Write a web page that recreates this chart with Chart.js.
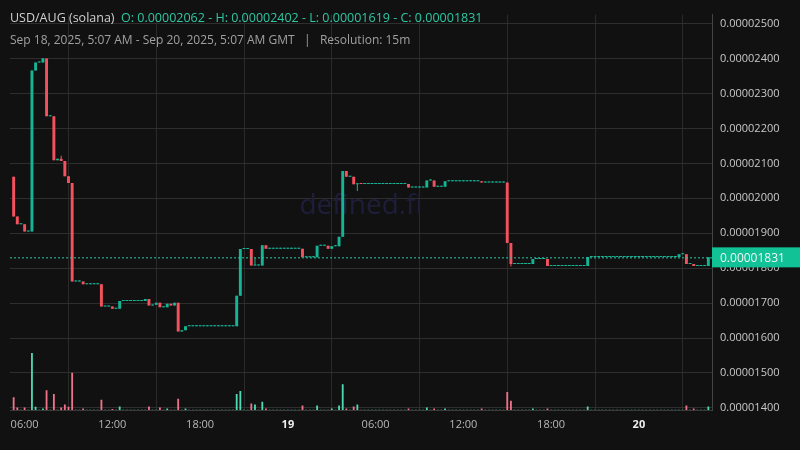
<!DOCTYPE html>
<html><head><meta charset="utf-8">
<script src="https://cdn.jsdelivr.net/npm/chart.js@4"></script>
<style>
html,body{margin:0;padding:0;background:#111111;}
#wrap{position:relative;width:800px;height:450px;font-family:"Open Sans","Noto Sans",sans-serif;}
#hdr{position:absolute;left:10px;top:9px;font-size:12.5px;color:#d1d1d1;white-space:pre;pointer-events:none}
#hdr .o{color:#2fc7a3}
#sub{position:absolute;left:10px;top:31px;font-size:12px;color:#a0a0a0;white-space:pre;pointer-events:none}
</style></head><body>
<div id="wrap"><canvas id="c" width="800" height="450"></canvas>
<div id="hdr">USD/AUG (solana)  <span class="o">O: 0.00002062 - H: 0.00002402 - L: 0.00001619 - C: 0.00001831</span></div>
<div id="sub">Sep 18, 2025, 5:07 AM - Sep 20, 2025, 5:07 AM GMT   |   Resolution: 15m</div>
</div>
<script>
// prices in units of 1e-8
const firstOpen = 2062;
const closes = [
1948,1926,1926,1905,1905,2366,2389,2389,2400,2235,
2235,2109,2113,2107,2063,2044,1762,1762,1762,1754,
1754,1754,1754,1754,1690,1690,1690,1684,1684,1706,
1706,1706,1706,1706,1706,1706,1712,1693,1695,1701,
1688,1688,1698,1693,1701,1619,1622,1634,1634,1634,
1634,1634,1634,1634,1634,1634,1634,1634,1634,1634,
1634,1721,1855,1855,1855,1808,1808,1808,1866,1856,
1856,1856,1856,1856,1856,1856,1856,1856,1856,1831,
1831,1831,1831,1864,1864,1864,1856,1863,1863,1890,
2078,2062,2062,2040,2043,2041,2041,2041,2041,2041,
2041,2041,2041,2041,2041,2041,2041,2041,2031,2031,
2031,2031,2031,2051,2051,2033,2033,2033,2049,2049,
2049,2049,2049,2049,2049,2049,2049,2049,2045,2045,
2045,2045,2045,2045,2045,1872,1812,1812,1812,1812,
1812,1812,1826,1826,1826,1826,1806,1806,1806,1806,
1806,1806,1806,1806,1806,1806,1806,1832,1832,1832,
1832,1832,1832,1832,1832,1832,1832,1832,1832,1832,
1832,1832,1832,1832,1832,1832,1832,1832,1832,1832,
1832,1832,1840,1840,1812,1812,1806,1806,1806,1806,
1831];
const wickHighIdx = [8,13,66];
const wickHighVal = [2402,2122,1830];
const wickLowIdx = [94,136];
const wickLowVal = [2021,1805];
const volumes = [
40,8,1,8,1,178,10,1,5,62,
1,50,1,8,17,10,116,1,1,5,
1,1,1,1,32,1,1,3,1,11,
1,1,1,1,1,1,1,11,1,1,
8,1,5,1,1,35,1,5,1,1,
1,1,1,1,1,1,1,1,1,1,
1,50,59,1,1,20,17,1,26,5,
1,1,1,1,1,1,1,1,1,14,
1,1,1,14,1,1,1,5,1,14,
80,5,1,11,17,1,1,1,1,1,
1,1,1,1,1,1,1,1,5,1,
1,1,1,8,1,5,1,1,5,1,
1,1,1,1,1,1,1,1,5,1,
1,1,1,1,1,56,29,1,1,1,
1,1,5,1,1,1,5,1,1,1,
1,1,1,1,1,1,1,11,1,1,
1,1,1,1,1,1,1,1,1,1,
1,1,1,1,1,1,1,1,1,1,
1,1,1,1,14,1,5,1,1,1,
11];
const xTickIdx = [3,27,51,75,99,123,147,171];
const xTickLabels = ['06:00','12:00','18:00','19','06:00','12:00','18:00','20'];
const yTicks = [1400,1500,1600,1700,1800,1900,2000,2100,2200,2300,2400,2500];
const lastPrice = 1831;

const UP='#16b394', DN='#f2525d', VUP='#4fd8b5', VDN='#f0728a';
const opens = closes.map((c,i)=> i===0?firstOpen:closes[i-1]);
const bodies=[], wicks=[], vols=[], bodyCol=[], volCol=[];
closes.forEach((c,i)=>{
  const o=opens[i];
  let hi=Math.max(o,c), lo=Math.min(o,c);
  const hj=wickHighIdx.indexOf(i); if(hj>=0) hi=Math.max(hi,wickHighVal[hj]);
  const lj=wickLowIdx.indexOf(i); if(lj>=0) lo=Math.min(lo,wickLowVal[lj]);
  bodies.push({x:i,y:[o,c]});
  wicks.push({x:i,y:[lo,hi]});
  const up = c>=o;
  bodyCol.push(up?UP:DN);
  vols.push({x:i,y:volumes[i]});
  volCol.push(up?VUP:VDN);
});

const overlay={id:'overlay',
 beforeDatasetsDraw(ch){
  const {ctx,chartArea:a}=ch;
  ctx.save();ctx.font='28px "Open Sans",sans-serif';ctx.fillStyle='#1e1e3a';
  ctx.textAlign='center';ctx.textBaseline='middle';
  ctx.fillText('defined.fi',(a.left+a.right)/2,206);ctx.restore();
 },
 afterDraw(ch){
  const {ctx,chartArea:a,scales}=ch;
  const y=scales.y.getPixelForValue(lastPrice);
  ctx.save();ctx.strokeStyle='#2fc7a3';ctx.setLineDash([2,2]);ctx.lineWidth=1;
  ctx.beginPath();ctx.moveTo(a.left,y+0.5);ctx.lineTo(a.right,y+0.5);ctx.stroke();
  ctx.setLineDash([]);ctx.fillStyle='#12c297';ctx.fillRect(a.right,y-10,88,20);
  ctx.fillStyle='#f4f4f4';ctx.font='12px "Open Sans",sans-serif';ctx.textBaseline='middle';
  ctx.fillText((lastPrice/1e8).toFixed(8),a.right+8,y+1);
  ctx.restore();
 }};

new Chart(document.getElementById('c'),{
 type:'bar',
 data:{datasets:[
  {data:bodies,backgroundColor:bodyCol,grouped:false,barPercentage:0.8,categoryPercentage:1,minBarLength:1,yAxisID:'y',order:1},
  {data:wicks,backgroundColor:bodyCol,grouped:false,barPercentage:0.28,categoryPercentage:1,minBarLength:1,yAxisID:'y',order:2},
  {data:vols,backgroundColor:volCol,grouped:false,barPercentage:0.5,categoryPercentage:1,yAxisID:'v',order:3}
 ]},
 options:{responsive:false,animation:false,
  layout:{padding:{left:10,top:8,right:0,bottom:0}},
  plugins:{legend:{display:false},tooltip:{enabled:false}},
  scales:{
   x:{type:'linear',min:-1,max:191,offset:false,
    afterBuildTicks(s){s.ticks=xTickIdx.map(v=>({value:v}));},
    afterFit(s){s.height=40;},
    grid:{color:'#2a2a2a',drawTicks:false},border:{color:'#3a3a3a'},
    ticks:{padding:8,color:'#b8b8b8',maxRotation:0,autoSkip:false,
      callback(v){const k=xTickIdx.indexOf(v);return k>=0?xTickLabels[k]:'';},
      font(ctx){const v=ctx.tick&&ctx.tick.value;const k=xTickIdx.indexOf(v);const b=k>=0&&xTickLabels[k].length<=2;
        return {family:'"Open Sans",sans-serif',size:11,weight:b?'bold':'normal'};},
      color(ctx){const k=xTickIdx.indexOf(ctx.tick&&ctx.tick.value);return (k>=0&&xTickLabels[k].length<=2)?'#eeeeee':'#b8b8b8';}}},
   y:{position:'right',min:1394,max:2526,
    afterBuildTicks(s){s.ticks=yTicks.map(v=>({value:v}));},
    afterFit(s){s.width=88;},
    grid:{color:'#2e2e2e',drawTicks:false},border:{color:'#444'},
    ticks:{padding:8,color:'#c8c8c8',font:{family:'"Open Sans",sans-serif',size:11},
      callback(v){return (v/1e8).toFixed(8);}}},
   v:{display:false,min:0,max:1234}
  }}
 ,plugins:[overlay]});
</script></body></html>
